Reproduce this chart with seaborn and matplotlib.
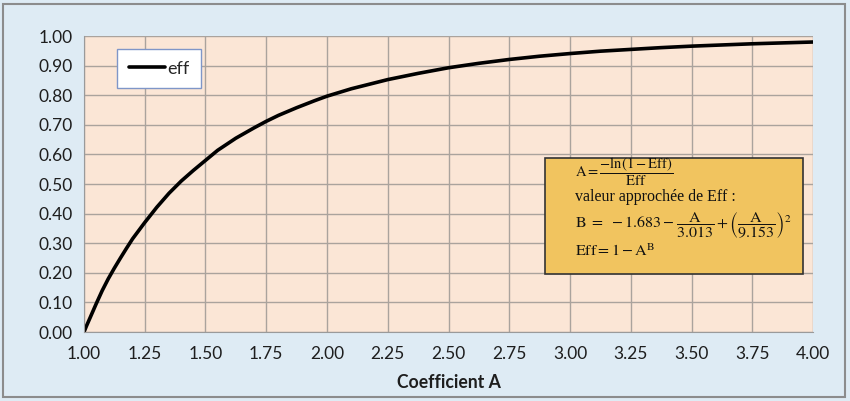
import numpy as np
import pandas as pd
import seaborn as sns
import matplotlib.pyplot as plt
from matplotlib.patches import Rectangle

# values
coef_a = [1.00, 1.01, 1.025, 1.05, 1.075, 1.10, 1.125, 1.15, 1.175, 1.20, 1.25,
          1.30, 1.35, 1.40, 1.45, 1.50, 1.55, 1.625, 1.70, 1.75, 1.80, 1.875,
          1.95, 2.00, 2.10, 2.25, 2.375, 2.50, 2.625, 2.75, 2.875, 3.00, 3.125,
          3.25, 3.375, 3.50, 3.625, 3.75, 3.875, 4.00]
eff = [0.0, 0.02, 0.048, 0.095, 0.14, 0.18, 0.216, 0.25, 0.283, 0.315, 0.37,
       0.422, 0.469, 0.51, 0.546, 0.58, 0.614, 0.655, 0.69, 0.712, 0.732, 0.758,
       0.782, 0.797, 0.822, 0.853, 0.874, 0.893, 0.908, 0.921, 0.932, 0.941, 0.949,
       0.955, 0.961, 0.966, 0.970, 0.974, 0.977, 0.980]
x_ticks = [1.00, 1.25, 1.50, 1.75, 2.00, 2.25, 2.50, 2.75, 3.00, 3.25, 3.50, 3.75, 4.00]
y_ticks = [0.0, 0.1, 0.2, 0.3, 0.4, 0.5, 0.6, 0.7, 0.8, 0.9, 1.0]

df = pd.DataFrame({"Coefficient A": coef_a, "eff": eff})

sns.set_style("white")
plt.rcParams['font.family'] = ['Lato', 'DejaVu Sans']
plt.rcParams['mathtext.fontset'] = 'stix'

fig = plt.figure(figsize=(8.5, 4.01), dpi=100, facecolor="#deebf4")
ax = fig.add_axes([0.0988, 0.172, 0.8577, 0.738])
ax.set_facecolor("#fbe6d6")

sns.lineplot(data=df, x="Coefficient A", y="eff", ax=ax, color="black",
             linewidth=2.6, label="eff")

ax.set_xlim(1, 4)
ax.set_ylim(0, 1)
ax.set_xticks(x_ticks)
ax.set_yticks(y_ticks)
ax.set_xticklabels([f"{v:.2f}" for v in x_ticks])
ax.set_yticklabels([f"{v:.2f}" for v in y_ticks])
ax.grid(True, color="#aaa39d", linewidth=1)
ax.set_axisbelow(True)
for side in ["top", "right"]:
    ax.spines[side].set_visible(False)
for side in ["left", "bottom"]:
    ax.spines[side].set_color("#9a9a9a")
ax.tick_params(axis="both", labelsize=12.5, length=5, color="#9a9a9a",
               direction="out", pad=3, labelcolor="#1e1e1e")
ax.tick_params(axis="x", pad=5)
ax.set_xlabel("Coefficient A", fontsize=12.7, fontweight="bold", labelpad=9,
              color="#1e1e1e")
ax.set_ylabel("")

leg = ax.legend(loc="upper left", bbox_to_anchor=(0.045, 0.957), fontsize=13,
                handlelength=2.0, handletextpad=0.15, borderpad=0.65,
                borderaxespad=0, fancybox=False, framealpha=1)
leg.get_frame().set_edgecolor("#7f96c8")
leg.get_frame().set_linewidth(1)

# formula box
ax.add_patch(Rectangle((0.632, 0.196), 0.354, 0.392, transform=ax.transAxes,
                       facecolor="#f1c45f", edgecolor="#333333", linewidth=1.2,
                       zorder=5))
tx = 575 / 850
txt_color = "#111111"
fig.text(tx, 1 - 172 / 401, r"$\mathrm{A} = \dfrac{-\ln(1-\mathrm{Eff})}{\mathrm{Eff}}$",
         fontsize=10.5, va="center", zorder=6, color=txt_color)
fig.text(tx, 1 - 197 / 401, "valeur approchée de Eff :", family="Liberation Serif",
         fontsize=11.5, va="center", zorder=6, color=txt_color)
fig.text(tx, 1 - 226 / 401,
         r"$\mathrm{B}\ =\ -1.683 - \dfrac{\mathrm{A}}{3.013} + \left(\dfrac{\mathrm{A}}{9.153}\right)^{2}$",
         fontsize=11.5, va="center", zorder=6, color=txt_color)
fig.text(tx, 1 - 251 / 401, r"$\mathrm{Eff} = 1 - \mathrm{A}^{\mathrm{B}}$",
         fontsize=11.5, va="center", zorder=6, color=txt_color)

# outer chart border
fig.patches.append(Rectangle((0.004, 0.01), 0.99, 0.98, transform=fig.transFigure,
                             fill=False, edgecolor="#8c8c8c", linewidth=1.5))

fig.savefig("out.png", dpi=100, facecolor=fig.get_facecolor())
